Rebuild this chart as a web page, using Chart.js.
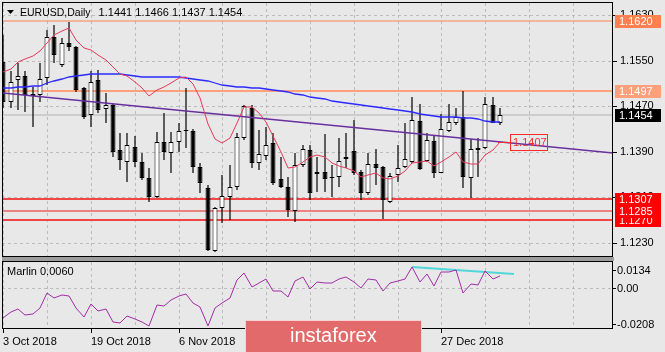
<!DOCTYPE html>
<html>
<head>
<meta charset="utf-8">
<script src="https://cdn.jsdelivr.net/npm/chart.js@4.4.1/dist/chart.umd.min.js"></script>
<style>
  html, body { margin: 0; padding: 0; background: #e8e8e8; }
  #wrap { position: relative; width: 665px; height: 352px; overflow: hidden; }
  canvas { position: absolute; left: 0; }
  #main { top: 0; }
  #sub { top: 261px; }
</style>
</head>
<body>
<div id="wrap">
  <canvas id="main" width="665" height="261"></canvas>
  <canvas id="sub" width="665" height="91"></canvas>
</div>
<script>
/* =========================================================
   EURUSD daily bars (3 Oct 2018 - 9 Jan 2019) + Marlin pane
   ========================================================= */
const symbol = 'EURUSD,Daily';

const opens = [1.1548,1.1477,1.1515,1.1523,1.1491,1.1490,1.1519,1.1592,1.1542,1.1580,
  1.1574,1.1501,1.1454,1.1516,1.1465,1.1472,1.1393,1.1372,1.1398,1.1372,
  1.1344,1.1310,1.1407,1.1388,1.1407,1.1426,1.1426,1.1363,1.1326,1.1215,
  1.1291,1.1310,1.1328,1.1414,1.1467,1.1370,1.1382,1.1405,1.1342,1.1328,
  1.1286,1.1367,1.1393,1.1351,1.1354,1.1344,1.1345,1.1377,1.1391,1.1354,
  1.1317,1.1368,1.1363,1.1302,1.1349,1.1363,1.1372,1.1444,1.1374,1.1409,
  1.1353,1.1426,1.1440,1.1451,1.1344,1.1393,1.1396,1.1472,1.1441];
const highs = [1.1595,1.1531,1.1545,1.1531,1.1503,1.1545,1.1604,1.1613,1.1589,1.1618,
  1.1575,1.1503,1.1531,1.1533,1.1493,1.1473,1.1423,1.1423,1.1418,1.1388,
  1.1361,1.1425,1.1458,1.1425,1.1440,1.1502,1.1430,1.1370,1.1331,1.1293,
  1.1349,1.1367,1.1423,1.1472,1.1472,1.1428,1.1433,1.1423,1.1381,1.1345,
  1.1388,1.1402,1.1402,1.1381,1.1421,1.1367,1.1414,1.1423,1.1446,1.1358,
  1.1388,1.1395,1.1365,1.1353,1.1402,1.1440,1.1486,1.1474,1.1423,1.1419,
  1.1456,1.1474,1.1467,1.1497,1.1412,1.1414,1.1486,1.1486,1.1466];
const lows = [1.1467,1.1467,1.1463,1.1460,1.1433,1.1478,1.1507,1.1545,1.1539,1.1566,
  1.1495,1.1448,1.1434,1.1458,1.1440,1.1381,1.1358,1.1337,1.1363,1.1340,
  1.1302,1.1309,1.1375,1.1353,1.1389,1.1396,1.1353,1.1317,1.1215,1.1214,
  1.1265,1.1270,1.1323,1.1410,1.1361,1.1358,1.1375,1.1331,1.1326,1.1275,
  1.1266,1.1363,1.1305,1.1319,1.1319,1.1310,1.1328,1.1361,1.1349,1.1305,
  1.1314,1.1331,1.1272,1.1300,1.1337,1.1362,1.1370,1.1357,1.1372,1.1344,
  1.1352,1.1425,1.1437,1.1326,1.1309,1.1345,1.1395,1.1440,1.1437];
const closes = [1.1477,1.1513,1.1522,1.1490,1.1488,1.1518,1.1592,1.1560,1.1580,1.1574,
  1.1498,1.1451,1.1513,1.1463,1.1471,1.1390,1.1375,1.1402,1.1372,1.1344,
  1.1310,1.1407,1.1389,1.1407,1.1426,1.1427,1.1363,1.1335,1.1217,1.1291,
  1.1312,1.1328,1.1416,1.1470,1.1370,1.1386,1.1402,1.1335,1.1328,1.1287,
  1.1367,1.1395,1.1317,1.1354,1.1342,1.1343,1.1374,1.1381,1.1353,1.1317,
  1.1368,1.1361,1.1305,1.1347,1.1361,1.1377,1.1446,1.1360,1.1410,1.1353,
  1.1430,1.1442,1.1451,1.1345,1.1395,1.1396,1.1474,1.1441,1.1454];

// moving averages (red = fast, blue = slow)
const maFast = [1.1530,1.1536,1.1548,1.1553,1.1558,1.1567,1.1581,1.1595,1.1602,1.1607,
  1.1586,1.1572,1.1569,1.1560,1.1551,1.1539,1.1527,1.1523,1.1512,1.1502,
  1.1488,1.1498,1.1504,1.1511,1.1519,1.1521,1.1509,1.1484,1.1439,1.1412,
  1.1405,1.1414,1.1440,1.1468,1.1468,1.1458,1.1442,1.1418,1.1389,1.1361,
  1.1363,1.1372,1.1381,1.1384,1.1381,1.1370,1.1365,1.1361,1.1356,1.1345,
  1.1349,1.1353,1.1344,1.1342,1.1347,1.1356,1.1370,1.1372,1.1374,1.1365,
  1.1372,1.1381,1.1389,1.1372,1.1368,1.1368,1.1384,1.1393,1.1407];
const maSlow = [1.1502,1.1502,1.1504,1.1504,1.1505,1.1505,1.1511,1.1514,1.1518,1.1521,
  1.1523,1.1525,1.1526,1.1526,1.1526,1.1526,1.1526,1.1525,1.1523,1.1521,
  1.1521,1.1521,1.1521,1.1521,1.1521,1.1519,1.1518,1.1516,1.1514,1.1511,
  1.1507,1.1505,1.1504,1.1504,1.1502,1.1502,1.1500,1.1498,1.1497,1.1495,
  1.1491,1.1490,1.1486,1.1484,1.1483,1.1479,1.1477,1.1475,1.1474,1.1472,
  1.1470,1.1468,1.1467,1.1465,1.1463,1.1461,1.1460,1.1456,1.1454,1.1453,
  1.1451,1.1451,1.1451,1.1449,1.1449,1.1447,1.1444,1.1442,1.1442];

// Marlin oscillator
const marlin = [-0.0153,-0.0119,-0.0106,-0.0136,-0.0130,-0.0102,-0.0022,-0.0048,-0.0034,-0.0038,
  -0.0102,-0.0145,-0.0080,-0.0116,-0.0107,-0.0174,-0.0179,-0.0140,-0.0157,-0.0174,
  -0.0191,-0.0085,-0.0090,-0.0060,-0.0038,-0.0029,-0.0077,-0.0097,-0.0192,-0.0102,
  -0.0077,-0.0051,0.0042,0.0080,0.0005,0.0026,0.0046,-0.0012,-0.0012,-0.0046,
  0.0037,0.0059,-0.0005,0.0034,0.0026,0.0029,0.0047,0.0059,0.0034,0.0000,
  0.0046,0.0042,-0.0012,0.0026,0.0037,0.0047,0.0110,0.0034,0.0071,0.0012,
  0.0082,0.0085,0.0093,-0.0022,0.0022,0.0017,0.0090,0.0047,0.0060];

// drawn objects
const trendX = [0, 83.5];
const trendY = [1.1493, 1.1388];
const divX = [56, 69.9];
const divY = [0.0107, 0.0075];
const levels = [1.1620, 1.1497, 1.1307, 1.1285, 1.1270];

// axes
const priceTicks = [1.1630, 1.1550, 1.1470, 1.1390, 1.1310, 1.1230];
const marlinTicks = [0.0134, 0, -0.0208];
const gridBars = [0, 6, 12, 18, 24, 30, 36, 42, 48, 54, 60, 66, 72, 78];
const dateBars = [0, 12, 24, 36, 48, 60];
const dateLabels = ['3 Oct 2018', '19 Oct 2018', '6 Nov 2018', '22 Nov 2018', '10 Dec 2018', '27 Dec 2018'];

// styles
const levelLine = ['#ff7f50', '#ffa07a', '#f24646', '#ee1c1c', '#f24646'];
const levelWidth = [1, 2, 2, 1, 2];
const levelTag = ['#ff7f50', '#ffa07a', '#ff0000', '#ff0000', '#ff0000'];
const GRID = '#bcbcbc';
const FONT = { family: 'Liberation Sans', size: 11 };
const xMin = -0.18, xMax = 83.5;

Chart.defaults.font.family = 'Liberation Sans';

const last = closes.length - 1;
const series = arr => arr.map((v, i) => ({ x: i, y: v }));
const hline = v => [{ x: xMin, y: v }, { x: xMax, y: v }];

const xAxis = (labels) => ({
    type: 'linear', min: xMin, max: xMax, offset: false, alignToPixels: true,
    afterBuildTicks: s => { s.ticks = gridBars.map(v => ({ value: v })); },
    afterFit: s => { s.height = labels ? 23 : 0; s.paddingLeft = 0; s.paddingRight = 0; },
    ticks: {
        display: labels, autoSkip: false, maxRotation: 0, align: 'start', padding: 2,
        color: '#000', font: FONT,
        callback: v => { const k = dateBars.indexOf(v); return k < 0 ? '' : dateLabels[k]; }
    },
    grid: {
        offset: false, color: GRID, drawTicks: labels, tickLength: 4, tickBorderDash: [],
        tickColor: c => (c.tick && dateBars.includes(c.tick.value)) ? '#000' : 'rgba(0,0,0,0)'
    },
    border: { display: false, dash: [3, 3] }
});

const mainDecor = {
    id: 'mainDecor',
    afterDraw(chart) {
        const { ctx, chartArea: a, scales: { x, y } } = chart;
        ctx.save();
        // pane separator + frame
        ctx.fillStyle = '#9d9d9d';
        ctx.fillRect(a.left, a.bottom, a.right - a.left + 1, chart.height - a.bottom);
        ctx.strokeStyle = '#000';
        ctx.lineWidth = 1;
        ctx.strokeRect(a.left + 0.5, a.top - 0.5, a.right - a.left - 1, a.bottom - a.top);

        // header
        ctx.fillStyle = '#000';
        ctx.beginPath();
        ctx.moveTo(7, 10); ctx.lineTo(14, 10); ctx.lineTo(10.5, 14);
        ctx.closePath(); ctx.fill();
        ctx.textBaseline = 'alphabetic';
        ctx.font = '10.5px "Liberation Sans"';
        ctx.fillText(symbol, 20, 16);
        const nameEnd = 20 + ctx.measureText(symbol).width;
        ctx.font = '11px "Liberation Sans"';
        ctx.fillText([opens[last], highs[last], lows[last], closes[last]].map(v => v.toFixed(4)).join(' '), nameEnd + 8, 16);

        // MA value label
        const mx = x.getPixelForValue(last);
        const my = Math.round(y.getPixelForValue(maFast[last])) + 0.5;
        ctx.strokeStyle = '#ff2a2a';
        ctx.beginPath(); ctx.moveTo(mx - 2, my); ctx.lineTo(mx + 10, my); ctx.stroke();
        ctx.strokeRect(Math.round(mx) + 10.5, my - 8, 37, 16);
        ctx.fillStyle = '#ff2a2a';
        ctx.textBaseline = 'middle';
        ctx.fillText(maFast[last].toFixed(4), mx + 13, my + 0.5);

        // price tags on the axis
        const tag = (v, bg) => {
            const py = Math.round(y.getPixelForValue(v));
            ctx.fillStyle = bg;
            ctx.fillRect(a.right + 2, py - 6, 46, 13);
            ctx.fillStyle = '#fff';
            ctx.fillText(v.toFixed(4), a.right + 6, py + 0.5);
        };
        levels.map((v, k) => [v, k]).sort((p, q) => p[0] - q[0]).forEach(([v, k]) => tag(v, levelTag[k]));
        tag(closes[last], '#000');
        ctx.restore();
    }
};

new Chart(document.getElementById('main'), {
    type: 'bar',
    data: {
        datasets: [
            { type: 'line', data: series(maFast), borderColor: '#e8385a', borderWidth: 1, pointRadius: 0, order: 0 },
            { type: 'line', data: series(maSlow), borderColor: '#2b2bff', borderWidth: 1.3, pointRadius: 0, order: 0 },
            { type: 'line', data: trendX.map((x, k) => ({ x, y: trendY[k] })), borderColor: '#6a2f9f', borderWidth: 1.5, pointRadius: 0, order: 0 },
            {
                data: opens.map((o, i) => ({ x: i, y: [o, closes[i]] })),
                backgroundColor: c => closes[c.dataIndex] >= opens[c.dataIndex] ? '#ffffff' : '#000000',
                borderColor: '#000', borderWidth: 1, borderSkipped: false,
                barThickness: 5, minBarLength: 1, grouped: false, inflateAmount: 0, order: 1
            },
            {
                data: lows.map((l, i) => ({ x: i, y: [l, highs[i]] })),
                backgroundColor: '#000', borderWidth: 0,
                barThickness: 1.2, grouped: false, inflateAmount: 0, order: 2
            },
            ...levels.map((v, k) => ({
                type: 'line', data: hline(v), borderColor: levelLine[k],
                borderWidth: levelWidth[k], pointRadius: 0, order: 3
            })),
            { type: 'line', data: hline(closes[last]), borderColor: '#b2b2b2', borderWidth: 1, pointRadius: 0, order: 4 }
        ]
    },
    options: {
        responsive: false,
        animation: false,
        events: [],
        layout: { padding: { left: 2, top: 3, bottom: 4, right: 0 } },
        plugins: { legend: { display: false }, tooltip: { enabled: false } },
        scales: {
            x: xAxis(false),
            y: {
                position: 'right', min: 1.12048, max: 1.16511, alignToPixels: true,
                afterBuildTicks: s => { s.ticks = priceTicks.map(v => ({ value: v })); },
                afterFit: s => { s.width = 52; s.paddingTop = 0; s.paddingBottom = 0; },
                ticks: { autoSkip: false, callback: v => v.toFixed(4), color: '#000', font: FONT, padding: 3 },
                grid: { color: GRID, tickColor: '#000', tickLength: 4, tickBorderDash: [] },
                border: { display: false, dash: [3, 3] }
            }
        }
    },
    plugins: [mainDecor]
});

const subDecor = {
    id: 'subDecor',
    afterDraw(chart) {
        const { ctx, chartArea: a, scales: { y } } = chart;
        ctx.save();
        ctx.strokeStyle = '#000';
        ctx.lineWidth = 1;
        ctx.strokeRect(a.left + 0.5, a.top - 0.5, a.right - a.left - 1, a.bottom - a.top);

        ctx.font = '11px "Liberation Sans"';
        ctx.fillStyle = '#000';
        ctx.textBaseline = 'middle';
        marlinTicks.forEach((v, k) => {
            let py = y.getPixelForValue(v);
            if (k === 0) py = a.top + 8;
            if (k === marlinTicks.length - 1) py = a.bottom - 5;
            py = Math.round(py) + 0.5;
            ctx.beginPath(); ctx.moveTo(a.right, py); ctx.lineTo(a.right + 3, py); ctx.stroke();
            ctx.fillText(v === 0 ? '0.00' : v.toFixed(4), a.right + 4, py);
        });
        ctx.textBaseline = 'alphabetic';
        ctx.fillText('Marlin ' + marlin[last].toFixed(4), 7, 14);

        // watermark
        ctx.fillStyle = '#e36a6a';
        ctx.fillRect(245, 59, 177, 40);
        ctx.strokeStyle = '#f6d2d2';
        ctx.strokeRect(245.5, 59.5, 176, 40);
        ctx.fillStyle = '#fff';
        ctx.font = '20px "Liberation Sans"';
        ctx.fillText('instaforex', 290, 81);
        ctx.restore();
    }
};

new Chart(document.getElementById('sub'), {
    type: 'line',
    data: {
        datasets: [
            { data: series(marlin), borderColor: '#a22ca6', borderWidth: 1, pointRadius: 0 },
            { data: divX.map((x, k) => ({ x, y: divY[k] })), borderColor: '#52d6da', borderWidth: 2, pointRadius: 0 }
        ]
    },
    options: {
        responsive: false,
        animation: false,
        events: [],
        layout: { padding: { left: 2, top: 1, bottom: 0, right: 0 } },
        plugins: { legend: { display: false }, tooltip: { enabled: false } },
        scales: {
            x: xAxis(true),
            y: {
                position: 'right', min: -0.0208, max: 0.0134, alignToPixels: true,
                afterBuildTicks: s => { s.ticks = [{ value: 0 }]; },
                afterFit: s => { s.width = 52; s.paddingTop = 0; s.paddingBottom = 0; },
                ticks: { display: false },
                grid: { color: GRID, drawTicks: false },
                border: { display: false, dash: [3, 3] }
            }
        }
    },
    plugins: [subDecor]
});
</script>
</body>
</html>
